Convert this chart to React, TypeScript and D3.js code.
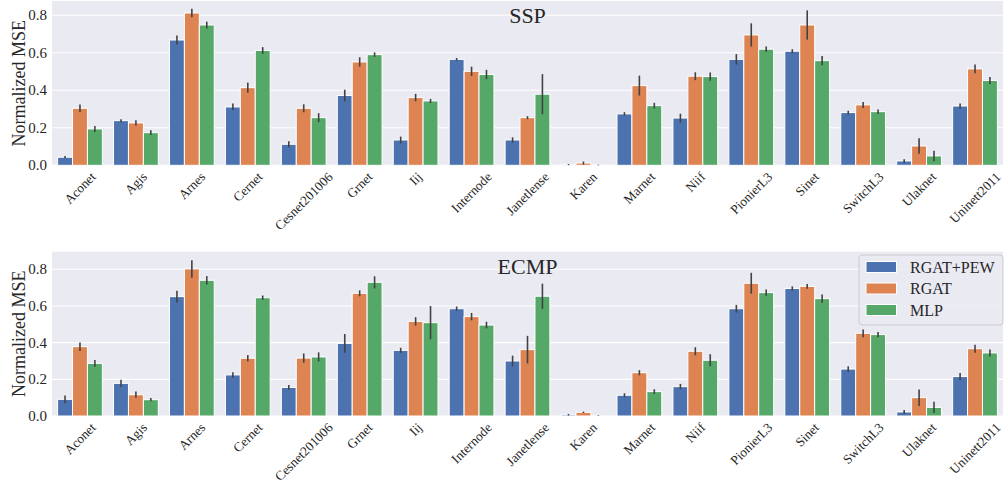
import React from "react";
import * as d3 from "d3";

const categories = ["Aconet","Agis","Arnes","Cernet","Cesnet201006","Grnet","Iij","Internode","Janetlense","Karen","Marnet","Niif","PionierL3","Sinet","SwitchL3","Ulaknet","Uninett2011"];
const seriesNames = ["RGAT+PEW","RGAT","MLP"];
const colors = ["#4C72B0","#DD8452","#55A868"];
const yTicks = [0, 0.2, 0.4, 0.6, 0.8];

// SSP
const sspPew  = [0.043,0.238,0.668,0.311,0.112,0.372,0.135,0.565,0.135,0.004,0.274,0.252,0.565,0.608,0.281,0.023,0.316];
const sspRgat = [0.304,0.226,0.812,0.414,0.304,0.551,0.361,0.501,0.254,0.012,0.425,0.475,0.695,0.748,0.322,0.103,0.514];
const sspMlp  = [0.194,0.174,0.748,0.612,0.254,0.590,0.343,0.484,0.379,0.001,0.318,0.473,0.619,0.558,0.286,0.050,0.452];
const sspPewErr  = [0.006,0.008,0.024,0.018,0.016,0.031,0.018,0.007,0.014,0.003,0.009,0.023,0.028,0.011,0.010,0.009,0.014];
const sspRgatErr = [0.020,0.014,0.023,0.027,0.021,0.025,0.020,0.025,0.008,0.008,0.053,0.021,0.062,0.078,0.016,0.041,0.023];
const sspMlpErr  = [0.016,0.013,0.018,0.018,0.024,0.012,0.011,0.025,0.107,0.002,0.015,0.022,0.014,0.025,0.012,0.028,0.019];

// ECMP
const ecmpPew  = [0.091,0.178,0.651,0.224,0.156,0.396,0.358,0.585,0.300,0.007,0.113,0.160,0.585,0.695,0.256,0.022,0.215];
const ecmpRgat = [0.378,0.116,0.802,0.315,0.316,0.669,0.516,0.542,0.362,0.020,0.236,0.353,0.724,0.707,0.451,0.100,0.367];
const ecmpMlp  = [0.287,0.089,0.740,0.645,0.322,0.729,0.509,0.496,0.653,0.001,0.133,0.304,0.673,0.640,0.444,0.047,0.344];
const ecmpPewErr  = [0.021,0.020,0.032,0.015,0.013,0.051,0.014,0.012,0.029,0.004,0.011,0.015,0.021,0.012,0.015,0.011,0.020];
const ecmpRgatErr = [0.023,0.017,0.048,0.017,0.025,0.016,0.023,0.020,0.075,0.004,0.014,0.022,0.057,0.013,0.021,0.045,0.022];
const ecmpMlpErr  = [0.018,0.009,0.023,0.012,0.025,0.033,0.091,0.018,0.069,0.002,0.013,0.033,0.017,0.022,0.014,0.031,0.019];

const FONT = '"Liberation Serif", "DejaVu Serif", serif';
const TXT = "#262626";

let _ctx: CanvasRenderingContext2D | null = null;
function measure(text: string, size: number): number {
  if (!_ctx) _ctx = document.createElement("canvas").getContext("2d");
  if (!_ctx) return text.length * size * 0.5;
  _ctx.font = `${size}px ${FONT}`;
  return _ctx.measureText(text).width;
}

const L = 52, R = 1003;

function Panel({ title, top, bottom, yMax, vals, errs, legend }: any) {
  const x = d3.scaleBand<string>().domain(categories).range([L, R]).padding(0);
  const y = d3.scaleLinear().domain([0, yMax]).range([bottom, top]);
  const bw = x.bandwidth();
  const barW = (bw * 0.8) / 3;
  const tickFs = 15;
  const xTickFs = 13.2;
  return (
    <g>
      <rect x={L} y={top} width={R - L} height={bottom - top} fill="#EAEAF2" />
      {yTicks.map((t) => (
        <g key={t}>
          <line x1={L} x2={R} y1={y(t)} y2={y(t)} stroke="#fff" strokeWidth={1.1} />
          <text x={L - 5} y={y(t)} textAnchor="end" dominantBaseline="central" fontFamily={FONT} fontSize={tickFs} fill={TXT}>
            {t.toFixed(1)}
          </text>
        </g>
      ))}
      {categories.map((c, ci) => {
        const cx = (x(c) as number) + bw / 2;
        return (
          <g key={c}>
            {seriesNames.map((s, si) => {
              const v = vals[si][ci];
              const e = errs[si][ci];
              const bx = cx - bw * 0.4 + si * barW;
              return (
                <g key={s}>
                  <rect x={bx} y={y(v)} width={barW} height={y(0) - y(v)} fill={colors[si]} stroke="#fff" strokeWidth={1} />
                  <line x1={bx + barW / 2} x2={bx + barW / 2} y1={y(Math.max(0, v - e))} y2={y(v + e)} stroke="#424242" strokeWidth={1.6} />
                </g>
              );
            })}
          </g>
        );
      })}
      {categories.map((c) => {
        const cx = (x(c) as number) + bw / 2;
        const w = measure(c, xTickFs);
        const h = xTickFs * 0.8;
        const cy = bottom + 5.5 + (w + h) * 0.3536;
        return (
          <text key={c} x={cx} y={cy} textAnchor="middle" dominantBaseline="central" fontFamily={FONT} fontSize={xTickFs} fill={TXT}
            transform={`rotate(-45 ${cx} ${cy})`}>
            {c}
          </text>
        );
      })}
      <text x={(L + R) / 2} y={top + 22} textAnchor="middle" fontFamily={FONT} fontSize={22} fill={TXT}>{title}</text>
      <text transform={`translate(19 ${(top + bottom) / 2}) rotate(-90)`} textAnchor="middle" dominantBaseline="central" fontFamily={FONT} fontSize={18} fill={TXT}>
        Normalized MSE
      </text>
      {legend && (
        <g>
          <rect x={859} y={255} width={144} height={70} rx={3} fill="#EAEAF2" fillOpacity={0.8} stroke="#CCCCCC" strokeWidth={1} />
          {seriesNames.map((s, i) => (
            <g key={s}>
              <rect x={866} y={261.5 + i * 21.5} width={30.5} height={11} fill={colors[i]} stroke="#fff" strokeWidth={1} />
              <text x={910} y={267 + i * 21.5} dominantBaseline="central" fontFamily={FONT} fontSize={16} fill={TXT}>{s}</text>
            </g>
          ))}
        </g>
      )}
    </g>
  );
}

export default function App() {
  return (
    <svg width={1005} height={482} style={{ position: "absolute", left: 0, top: 0 }}>
      <rect width={1005} height={482} fill="#fff" />
      <Panel title="SSP" top={1} bottom={165.3} yMax={0.876}
        vals={[sspPew, sspRgat, sspMlp]} errs={[sspPewErr, sspRgatErr, sspMlpErr]} legend={false} />
      <Panel title="ECMP" top={251.7} bottom={416} yMax={0.896}
        vals={[ecmpPew, ecmpRgat, ecmpMlp]} errs={[ecmpPewErr, ecmpRgatErr, ecmpMlpErr]} legend={true} />
    </svg>
  );
}
